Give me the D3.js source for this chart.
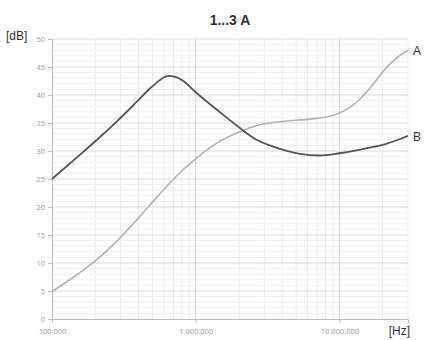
<!DOCTYPE html>
<html>
<head>
<meta charset="utf-8">
<title>1...3 A</title>
<script src="https://d3js.org/d3.v7.min.js"></script>
<style>
  body { margin: 0; background: #fff; }
  svg text { font-family: "Liberation Sans", Arial, sans-serif; }
</style>
</head>
<body>
<div id="chart"></div>
<script>
// frequency points (Hz) and level (dB)
var freqA = [1e5, 1.49e5, 2.05e5, 2.83e5, 3.89e5, 4.82e5, 6.29e5, 8.20e5, 1.0e6, 1.40e6, 1.93e6, 2.79e6, 3.28e6, 4.52e6, 6.22e6, 8.57e6, 1.0e7, 1.18e7, 1.38e7, 1.81e7, 2.01e7, 2.49e7, 3.0e7];
var levelA = [4.9, 7.9, 10.6, 13.9, 17.7, 20.4, 23.7, 26.7, 28.6, 31.4, 33.2, 34.7, 35.0, 35.4, 35.7, 36.2, 36.8, 37.8, 39.2, 42.7, 44.2, 46.6, 48.0];
var freqB = [1e5, 1.658e5, 2.16e5, 2.83e5, 3.89e5, 4.82e5, 5.65e5, 6.42e5, 7.30e5, 8.20e5, 1.0e6, 1.40e6, 2.03e6, 2.65e6, 3.28e6, 5.30e6, 7.30e6, 1.005e7, 1.62e7, 2.06e7, 2.62e7, 3.0e7];
var levelB = [25.0, 29.9, 32.5, 35.3, 38.8, 41.2, 42.7, 43.4, 43.2, 42.5, 40.5, 37.4, 34.1, 32.0, 31.0, 29.5, 29.2, 29.6, 30.6, 31.2, 32.1, 32.7];
var xTicks = [1e5, 1e6, 1e7];
var xTickLabels = ["100.000", "1.000.000", "10.000.000"];
var yTicks = [0, 5, 10, 15, 20, 25, 30, 35, 40, 45, 50];

var W = 424, H = 340;
var margin = {top: 39, right: 16, bottom: 21, left: 52};
var innerW = W - margin.left - margin.right,
    innerH = H - margin.top - margin.bottom;

var svg = d3.select("#chart").append("svg")
  .attr("width", W).attr("height", H);

var g = svg.append("g")
  .attr("transform", "translate(" + margin.left + "," + margin.top + ")");

var x = d3.scaleLog().domain([1e5, 3e7]).range([0, innerW]);
var y = d3.scaleLinear().domain([0, 50]).range([innerH, 0]);

// minor grid
var minorX = [];
[1e5, 1e6, 1e7].forEach(function(d) {
  for (var k = 2; k <= 9; k++) if (d * k <= 3e7) minorX.push(d * k);
});
var minorY = d3.range(0, 51).filter(function(v) { return v % 5 !== 0; });

g.selectAll(".mx").data(minorX).enter().append("line")
  .attr("x1", d => x(d)).attr("x2", d => x(d))
  .attr("y1", 0).attr("y2", innerH)
  .attr("stroke", "#ebebeb").attr("stroke-width", 1);
g.selectAll(".my").data(minorY).enter().append("line")
  .attr("x1", 0).attr("x2", innerW)
  .attr("y1", d => y(d)).attr("y2", d => y(d))
  .attr("stroke", "#f0f0f0").attr("stroke-width", 1);

// major grid
g.selectAll(".Mx").data(xTicks.slice(1)).enter().append("line")
  .attr("x1", d => x(d)).attr("x2", d => x(d))
  .attr("y1", 0).attr("y2", innerH)
  .attr("stroke", "#d6d6d6").attr("stroke-width", 1);
g.selectAll(".My").data(yTicks.slice(1)).enter().append("line")
  .attr("x1", 0).attr("x2", innerW)
  .attr("y1", d => y(d)).attr("y2", d => y(d))
  .attr("stroke", "#dcdcdc").attr("stroke-width", 1);

// axes
var yAxis = g.append("g")
  .call(d3.axisLeft(y).tickValues(yTicks).tickSize(4).tickPadding(3));
var xAxis = g.append("g")
  .attr("transform", "translate(0," + innerH + ")")
  .call(d3.axisBottom(x).tickValues(xTicks).tickSize(4).tickPadding(6)
    .tickFormat((d, i) => xTickLabels[i]));
[yAxis, xAxis].forEach(function(a) {
  a.select(".domain").attr("stroke", "#bdbdbd");
  a.selectAll(".tick line").attr("stroke", "#bdbdbd");
  a.selectAll(".tick text").attr("fill", "#9a9a9a")
    .style("font-family", "'Open Sans', sans-serif").style("font-size", "7.5px");
});

// curves
var line = d3.line()
  .x(d => x(d[0])).y(d => y(d[1]))
  .curve(d3.curveMonotoneX);

g.append("path")
  .datum(d3.zip(freqA, levelA))
  .attr("fill", "none").attr("stroke", "#b3b3b3").attr("stroke-width", 1.6)
  .attr("d", line);
g.append("path")
  .datum(d3.zip(freqB, levelB))
  .attr("fill", "none").attr("stroke", "#555555").attr("stroke-width", 1.8)
  .attr("d", line);

// series labels
g.append("text").attr("x", innerW + 5).attr("y", y(levelA[levelA.length - 1]) + 5)
  .attr("font-size", 12).attr("fill", "#333").text("A");
g.append("text").attr("x", innerW + 5).attr("y", y(levelB[levelB.length - 1]) + 5)
  .attr("font-size", 12).attr("fill", "#333").text("B");

// title and units
svg.append("text").attr("x", margin.left + innerW / 2).attr("y", 25)
  .attr("text-anchor", "middle").attr("font-size", 14).attr("font-weight", "bold")
  .attr("fill", "#333").text("1...3 A");
svg.append("text").attr("x", 6).attr("y", 40)
  .attr("font-size", 12).attr("fill", "#333").text("[dB]");
svg.append("text").attr("x", 410).attr("y", 335)
  .attr("text-anchor", "end").attr("font-size", 12).attr("fill", "#333").text("[Hz]");
</script>
</body>
</html>
